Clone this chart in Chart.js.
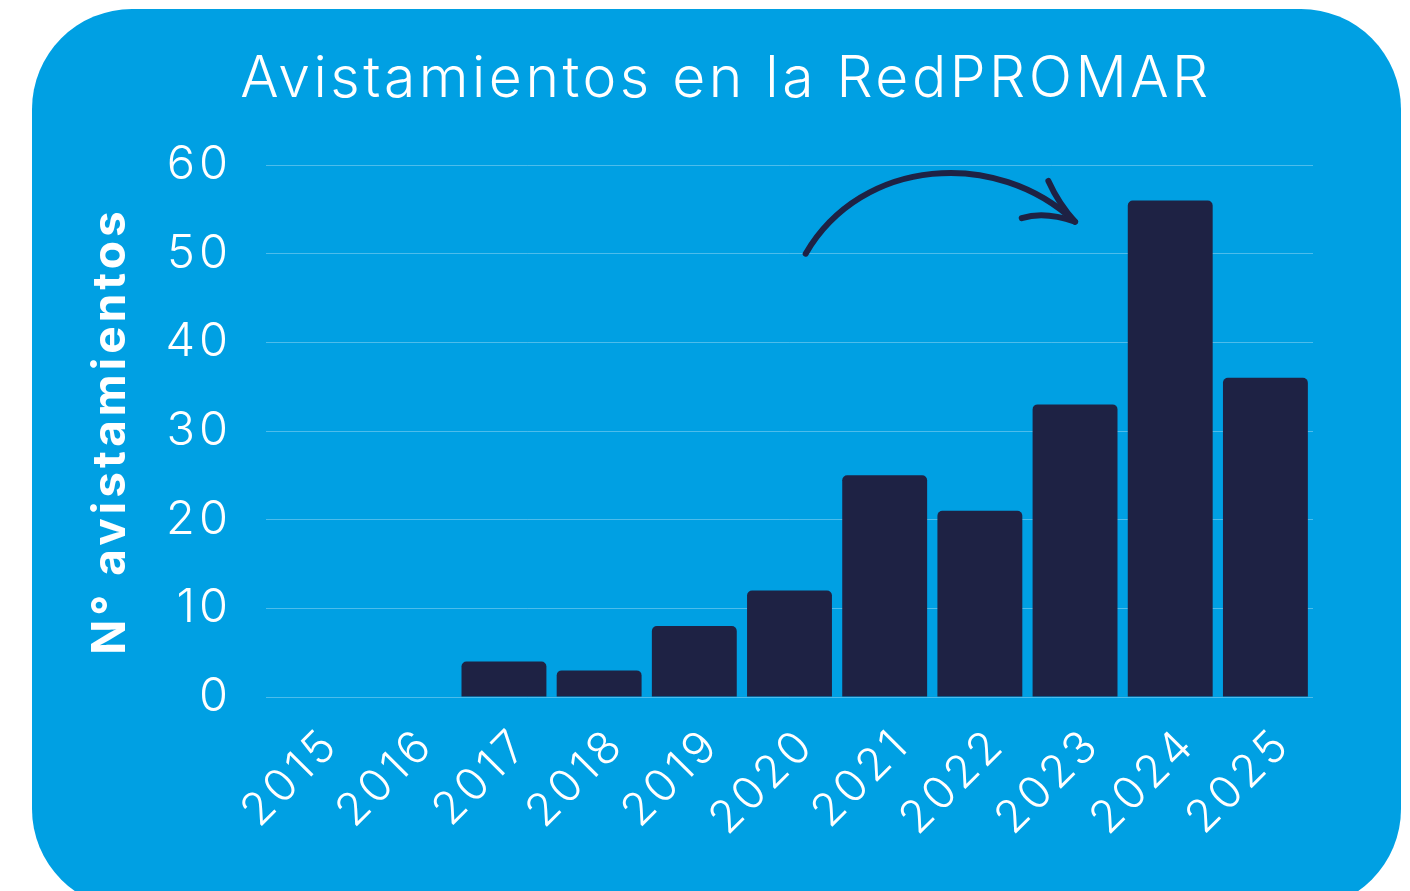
<!DOCTYPE html>
<html lang="es">
<head>
<meta charset="utf-8">
<title>Avistamientos en la RedPROMAR</title>
<script src="https://cdn.jsdelivr.net/npm/chart.js@4"></script>
<style>
    html, body { margin: 0; padding: 0; background: #ffffff; }
    #wrap { width: 1410px; height: 891px; }
</style>
</head>
<body>
<div id="wrap"><canvas id="grafico"></canvas></div>
<script>
// Datos del gráfico
const anios = ['2015', '2016', '2017', '2018', '2019', '2020', '2021', '2022', '2023', '2024', '2025'];
const avistamientos = [0, 0, 4, 3, 8, 12, 25, 21, 33, 56, 36];
const ticksY = [0, 10, 20, 30, 40, 50, 60];

const titulo = 'Avistamientos en la RedPROMAR';
const tituloEje = 'N° avistamientos';

const AZUL = '#00a0e3';
const MARINO = '#1e2244';
const FUENTE = 'Inter, "Open Sans", sans-serif';
const ESPACIADO = '4px';

// Espaciado entre letras (la fuente original es más ancha)
const espaciado = {
    id: 'espaciado',
    beforeUpdate(chart) { chart.ctx.letterSpacing = ESPACIADO; },
    beforeDraw(chart) { chart.ctx.letterSpacing = ESPACIADO; }
};

// Fondo del panel azul redondeado
const panelFondo = {
    id: 'panelFondo',
    beforeDraw(chart) {
        const c = chart.ctx;
        c.save();
        c.fillStyle = AZUL;
        c.beginPath();
        c.roundRect(32, 9, 1369, 900, 100);
        c.fill();
        c.restore();
    }
};

// Título centrado sobre el panel
const tituloPanel = {
    id: 'tituloPanel',
    afterDraw(chart) {
        const c = chart.ctx;
        c.save();
        c.fillStyle = '#ffffff';
        c.font = `300 57px ${FUENTE}`;
        c.letterSpacing = '3.5px';
        c.textAlign = 'center';
        c.textBaseline = 'alphabetic';
        c.fillText(titulo, 726, 97);
        c.restore();
    }
};

// Flecha dibujada a mano de 2020 hacia 2024 (en coordenadas de datos)
const flecha = {
    id: 'flecha',
    afterDatasetsDraw(chart) {
        const x = chart.scales.x, y = chart.scales.y;
        const px = (i) => x.getPixelForValue(0) + i * (x.getPixelForValue(1) - x.getPixelForValue(0));
        const c = chart.ctx;
        c.save();
        c.strokeStyle = MARINO;
        c.lineWidth = 6;
        c.lineCap = 'round';
        c.lineJoin = 'round';
        c.beginPath();
        c.moveTo(px(5.17), y.getPixelForValue(50));
        c.bezierCurveTo(px(5.76), y.getPixelForValue(60.9), px(7.18), y.getPixelForValue(61.9), px(8.0), y.getPixelForValue(53.6));
        c.stroke();
        c.beginPath();
        c.moveTo(px(7.72), y.getPixelForValue(58.2));
        c.quadraticCurveTo(px(7.83), y.getPixelForValue(55.6), px(8.0), y.getPixelForValue(53.6));
        c.quadraticCurveTo(px(7.68), y.getPixelForValue(54.8), px(7.44), y.getPixelForValue(54));
        c.stroke();
        c.restore();
    }
};

new Chart(document.getElementById('grafico'), {
    type: 'bar',
    data: {
        labels: anios,
        datasets: [{
            label: tituloEje,
            data: avistamientos,
            backgroundColor: MARINO,
            borderRadius: { topLeft: 5, topRight: 5 },
            borderSkipped: 'bottom',
            barPercentage: 0.892,
            categoryPercentage: 1
        }]
    },
    options: {
        responsive: true,
        maintainAspectRatio: false,
        animation: false,
        layout: { padding: { top: 165, right: 97, bottom: 0, left: 0 } },
        plugins: {
            legend: { display: false },
            tooltip: { enabled: false }
        },
        scales: {
            y: {
                min: 0,
                max: 60,
                afterFit(s) { s.width = 266; },
                afterBuildTicks(s) { s.ticks = ticksY.map(v => ({ value: v })); },
                border: { display: false },
                grid: { color: 'rgba(255,255,255,0.3)', lineWidth: 1, drawTicks: false },
                ticks: {
                    color: '#ffffff',
                    padding: 34,
                    font: { family: FUENTE, size: 47, weight: '300' }
                },
                title: {
                    display: true,
                    text: tituloEje,
                    color: '#ffffff',
                    padding: { top: 84 },
                    font: { family: FUENTE, size: 46, weight: '700' }
                }
            },
            x: {
                afterFit(s) { s.height = 194; },
                border: { display: false },
                grid: { display: false },
                ticks: {
                    color: '#ffffff',
                    maxRotation: 45,
                    minRotation: 45,
                    padding: 13,
                    labelOffset: 18,
                    font: { family: FUENTE, size: 45, weight: '300' }
                }
            }
        }
    },
    plugins: [espaciado, panelFondo, flecha, tituloPanel]
});
</script>
</body>
</html>
